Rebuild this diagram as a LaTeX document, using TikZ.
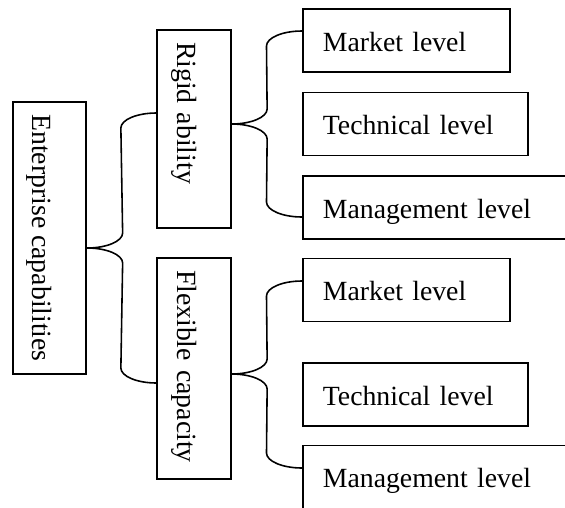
\documentclass[tikz,border=0pt]{standalone}
\usepackage{fontspec}
\setmainfont{Liberation Serif}
\begin{document}
\begin{tikzpicture}[font=\fontsize{31.6}{38}\selectfont,
    vbox/.style={draw, line width=2pt, rotate=-90, align=left, inner xsep=0.48cm, inner ysep=0pt, text depth=0.8cm, text height=2.14cm},
    leaf/.style={draw, line width=2pt, anchor=west, align=left, inner xsep=0.8cm, inner ysep=0pt, text depth=0.84cm, text height=1.68cm},
    brace/.style={line width=1.8pt}]
    \useasboundingbox (0,0) rectangle (22.6,-20.28);
    \clip (0,0) rectangle (22.6,-20.28);

    % Nodes (rotated boxes: north is the right side, south the left side)
    \node[vbox, minimum width=10.88cm] (ent) at (1.98,-9.52) {Enterprise capabilities};
    \node[vbox, text width=6.96cm] (rigid) at (7.76,-5.16) {Rigid ability};
    \node[vbox, text width=7.88cm] (flex) at (7.76,-14.74) {Flexible capacity};

    \node[leaf, text width=6.68cm] (m1) at (12.08,-1.62) {Market level};
    \node[leaf, text width=7.4cm] (t1) at (12.08,-4.96) {Technical level};
    \node[leaf, text width=9.2cm] (g1) at (12.08,-8.3) {Management level};
    \node[leaf, text width=6.68cm] (m2) at (12.08,-11.6) {Market level};
    \node[leaf, text width=7.4cm] (t2) at (12.08,-15.78) {Technical level};
    \node[leaf, text width=9.2cm] (g2) at (12.08,-19.08) {Management level};

    % Braces
    \draw[brace] ([yshift=-0.4cm]ent.north) .. controls +(0.78,0) and +(0,-0.33) .. ++(1.42,0.6)
        -- ([shift={(-1.42,0.04)}]rigid.south) .. controls +(0,0.33) and +(-0.78,0) .. ([yshift=0.64cm]rigid.south);
    \draw[brace] ([yshift=-0.4cm]ent.north) .. controls +(0.78,0) and +(0,0.33) .. ++(1.42,-0.6)
        -- ([shift={(-1.42,0.02)}]flex.south) .. controls +(0,-0.33) and +(-0.78,0) .. ([yshift=-0.58cm]flex.south);

    \draw[brace] ([yshift=0.2cm]rigid.north) .. controls +(0.78,0) and +(0,-0.33) .. ++(1.42,0.6)
        -- ([shift={(-1.42,-0.22)}]m1.west) .. controls +(0,0.33) and +(-0.78,0) .. ([yshift=0.38cm]m1.west);
    \draw[brace] ([yshift=0.2cm]rigid.north) .. controls +(0.78,0) and +(0,0.33) .. ++(1.42,-0.6)
        -- ([shift={(-1.42,0.22)}]g1.west) .. controls +(0,-0.33) and +(-0.78,0) .. ([yshift=-0.38cm]g1.west);

    \draw[brace] ([yshift=-0.22cm]flex.north) .. controls +(0.78,0) and +(0,-0.33) .. ++(1.42,0.6)
        -- ([shift={(-1.42,-0.24)}]m2.west) .. controls +(0,0.33) and +(-0.78,0) .. ([yshift=0.36cm]m2.west);
    \draw[brace] ([yshift=-0.22cm]flex.north) .. controls +(0.78,0) and +(0,0.33) .. ++(1.42,-0.6)
        -- ([shift={(-1.42,0.96)}]g2.west) .. controls +(0,-0.33) and +(-0.78,0) .. ([yshift=0.36cm]g2.west);
\end{tikzpicture}
\end{document}
